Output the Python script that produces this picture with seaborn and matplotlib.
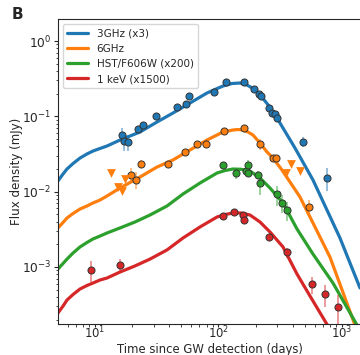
import numpy as np
import pandas as pd
import matplotlib
matplotlib.use("Agg")
import matplotlib.pyplot as plt
import seaborn as sns

# ---------------- data ----------------
labels = ["3GHz (x3)", "6GHz", "HST/F606W (x200)", "1 keV (x1500)"]
colors = ["#1f77b4", "#ff7f0e", "#2ca02c", "#d62728"]

# model curves
t_mod_3ghz = [5.01, 5.51, 5.93, 6.64, 7.56, 8.61, 9.63, 10.98, 12.5, 15.94, 23.14, 31.77, 42.8,
              58.76, 80.71, 108.8, 128.6, 149.3, 170.1, 193.9, 220.9, 256.4, 297.7, 416.4,
              582.5, 963.4, 1399]
f_mod_3ghz = [0.01383, 0.01713, 0.01996, 0.0236, 0.0279, 0.0316, 0.0346, 0.0374, 0.0403, 0.0484,
              0.0619, 0.0840, 0.1106, 0.1502, 0.2039, 0.2526, 0.2726, 0.2768, 0.2604, 0.2304,
              0.1861, 0.1370, 0.0949, 0.0379, 0.01426, 0.00242, 0.000525]

t_mod_6ghz = [5.01, 5.51, 5.93, 6.64, 7.56, 8.61, 9.63, 10.98, 12.5, 15.94, 23.14, 31.77, 42.8,
              58.76, 80.71, 108.8, 131.1, 143.9, 157.9, 173.3, 190.3, 216.8, 247.0, 276.2,
              326.7, 379.3, 456.9, 582.5, 799.5, 1274, 1399]
f_mod_6ghz = [0.00329, 0.00389, 0.00446, 0.00512, 0.00587, 0.00644, 0.00706, 0.00773, 0.00874,
              0.01116, 0.01563, 0.0212, 0.0263, 0.0357, 0.0484, 0.0619, 0.0658, 0.0668, 0.0658,
              0.0619, 0.0564, 0.0442, 0.0336, 0.0279, 0.01936, 0.01341, 0.00848, 0.00383,
              0.00135, 0.000169, 0.000121]

t_mod_hst = [5.01, 5.51, 5.93, 6.64, 7.56, 8.61, 9.63, 10.98, 12.5, 15.94, 21.08, 27.88, 38.28,
             51.58, 70.83, 97.25, 112.9, 131.1, 152.1, 179.9, 216.8, 261.2, 333.0, 432.2,
             582.5, 845.5, 1323, 1452]
f_mod_hst = [0.000938, 0.00111, 0.00127, 0.00153, 0.00184, 0.00211, 0.00235, 0.00257, 0.00282,
             0.00329, 0.00395, 0.00489, 0.00644, 0.00929, 0.0130, 0.01766, 0.01906, 0.01996,
             0.0198, 0.01877, 0.01516, 0.01116, 0.00706, 0.00319, 0.00148, 0.000611,
             0.000169, 0.000132]

t_mod_xray = [5.01, 5.51, 5.93, 6.64, 7.56, 8.61, 9.63, 10.98, 12.5, 15.94, 21.08, 27.88, 38.28,
              51.58, 70.83, 97.25, 112.9, 131.1, 152.1, 179.9, 216.8, 261.2, 333.0, 432.2,
              550.8, 770.2, 1057]
f_mod_xray = [0.000244, 0.000302, 0.000363, 0.00043, 0.000509, 0.000566, 0.000611, 0.00067,
              0.000712, 0.000855, 0.00103, 0.00127, 0.00168, 0.00242, 0.00339, 0.0046,
              0.00496, 0.0052, 0.0052, 0.00489, 0.00395, 0.00291, 0.00184, 0.000805,
              0.000411, 0.000164, 0.0000788]

# observed points
t_obs_3ghz = [16.54, 17.17, 18.40, 22.3, 24.33, 31.19, 46.38, 54.54, 57.35, 92.5, 114.4, 161.8,
              195.0, 214.0, 220.9, 256.4, 272.6, 286.7, 296.0, 486.1, 760.3]
f_obs_3ghz = [0.0564, 0.0470, 0.0452, 0.0678, 0.0766, 0.1019, 0.1341, 0.1457, 0.1861, 0.2122,
              0.288, 0.288, 0.2284, 0.1978, 0.1861, 0.1301, 0.1116, 0.1063, 0.0940, 0.0460, 0.0153]
e_obs_3ghz = [0.014, 0.012, 0.011, 0.006, 0.007, 0.009, 0.012, 0.013, 0.016, 0.018,
              0.025, 0.025, 0.02, 0.018, 0.016, 0.012, 0.01, 0.01, 0.009, 0.007, 0.005]

t_obs_6ghz = [19.45, 21.48, 23.79, 39.22, 53.53, 66.98, 79.96, 111.4, 161.8, 216.8, 274.7, 290.5, 543.6]
f_obs_6ghz = [0.01687, 0.01448, 0.0236, 0.0236, 0.0331, 0.0429, 0.0429, 0.0638, 0.0689, 0.0429,
              0.0282, 0.0277, 0.00619]
e_obs_6ghz = [0.004, 0.0035, 0.003, 0.0015, 0.002, 0.002, 0.002, 0.003, 0.003, 0.007, 0.002, 0.002, 0.0016]

t_lim_6ghz = [13.48, 15.44, 16.45, 17.50, 352.2, 386.4, 456.9]
f_lim_6ghz = [0.01793, 0.0115, 0.01019, 0.0147, 0.01766, 0.0236, 0.0185]

t_obs_hst = [109.2, 137.8, 166.1, 172.4, 174.3, 210.0, 216.8, 296.0, 324.9, 356.7]
f_obs_hst = [0.0229, 0.0175, 0.01895, 0.0229, 0.0175, 0.01661, 0.01313, 0.0092, 0.00712, 0.0057]
e_obs_hst = [0.002, 0.003, 0.002, 0.003, 0.002, 0.002, 0.004, 0.0027, 0.002, 0.0016]

t_obs_xray = [9.28, 15.94, 109.2, 134.3, 158.8, 161.8, 257.8, 355.4, 574.9, 728.4, 928.2]
f_obs_xray = [0.000910, 0.00106, 0.00474, 0.00531, 0.00489, 0.0042, 0.00247, 0.00156,
              0.000587, 0.000437, 0.000293]
e_obs_xray = [0.00028, 0.0002, 0.0003, 0.0003, 0.0003, 0.0003, 0.0002, 0.00025, 0.00015,
              0.00014, 0.00013]

# ---------------- figure ----------------
sns.set_style("ticks")
plt.rcParams["font.family"] = ["DejaVu Sans"]
plt.rcParams["font.size"] = 9

fig = plt.figure(figsize=(3.6, 3.55), dpi=100)
ax = fig.add_axes([58 / 360, 31 / 355, 307 / 360, 305 / 355])

models = [(t_mod_3ghz, f_mod_3ghz), (t_mod_6ghz, f_mod_6ghz),
          (t_mod_hst, f_mod_hst), (t_mod_xray, f_mod_xray)]
obs = [(t_obs_3ghz, f_obs_3ghz, e_obs_3ghz), (t_obs_6ghz, f_obs_6ghz, e_obs_6ghz),
       (t_obs_hst, f_obs_hst, e_obs_hst), (t_obs_xray, f_obs_xray, e_obs_xray)]

for (tm, fm), lab, c in zip(models, labels, colors):
    df = pd.DataFrame({"t": tm, "f": fm})
    sns.lineplot(data=df, x="t", y="f", ax=ax, color=c, lw=2.3, label=lab,
                 sort=False, estimator=None, zorder=2)

for (to, fo, eo), c in zip(obs, colors):
    ax.errorbar(to, fo, yerr=eo, fmt="none", ecolor=c, alpha=0.55, elinewidth=1.2, zorder=3)
    df = pd.DataFrame({"t": to, "f": fo})
    sns.scatterplot(data=df, x="t", y="f", ax=ax, color=c, s=26, edgecolor="#333333",
                    linewidth=0.7, zorder=4, legend=False)

df_lim = pd.DataFrame({"t": t_lim_6ghz, "f": f_lim_6ghz})
sns.scatterplot(data=df_lim, x="t", y="f", ax=ax, color=colors[1], marker="v", s=40,
                linewidth=0, zorder=4, legend=False)

ax.set_xscale("log")
ax.set_yscale("log")
ax.set_xlim(5.016, 1536)
ax.set_ylim(1.745e-4, 1.96)
ax.set_xlabel("Time since GW detection (days)", fontsize=8.4)
ax.set_ylabel("Flux density (mJy)", fontsize=8.6)
ax.xaxis.set_label_coords(0.495, -0.0623)
ax.yaxis.set_label_coords(-0.114, 0.5)
ax.tick_params(axis="x", which="major", labelsize=8.4, length=2.5, width=0.8, pad=-1.8)
ax.tick_params(axis="y", which="major", labelsize=8.8, length=3, width=0.8, pad=1.5)
ax.tick_params(axis="both", which="minor", length=1.8, width=0.6)
ax.spines["right"].set_visible(False)

leg = ax.legend(loc="upper left", fontsize=7.5, frameon=True, handlelength=2.0)
for line in leg.get_lines():
    line.set_linewidth(2.3)

fig.text(0.033, 0.958, "B", fontsize=11, fontweight="bold", ha="left", va="center")

fig.savefig("out.png", dpi=100)
